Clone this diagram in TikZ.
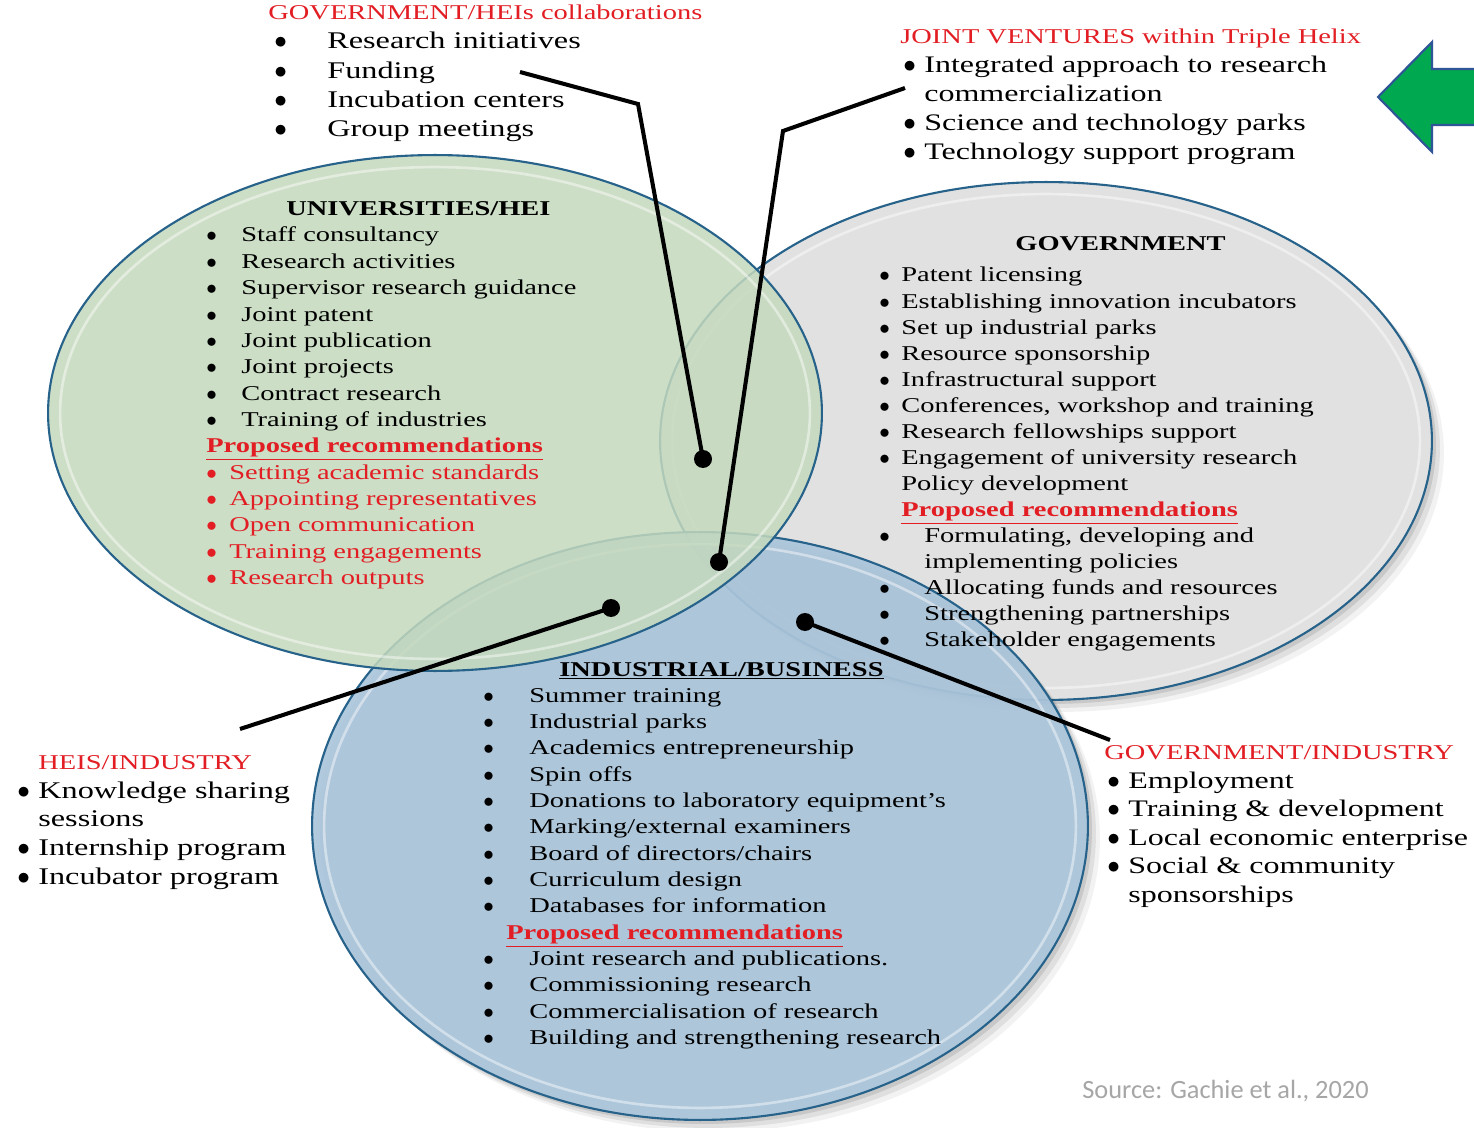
\documentclass[tikz,border=0pt]{standalone}
\usepackage{fontspec}
\setmainfont{Liberation Serif}[FakeStretch=1.35]
\newfontfamily\srcfont{Carlito}

\definecolor{hred}{RGB}{226,30,36}
\definecolor{rim}{RGB}{38,98,138}
\definecolor{unifill}{RGB}{196,217,189}
\definecolor{govfill}{RGB}{225,225,225}
\definecolor{indfill}{RGB}{172,198,220}
\definecolor{arrowgreen}{RGB}{0,168,80}
\definecolor{arrowrim}{RGB}{47,85,151}
\definecolor{srcgray}{RGB}{166,166,166}

\newcommand{\bl}[1]{\makebox[#1][l]{$\bullet$}}
\newcommand{\nb}[1]{\hspace*{#1}}
\newcommand{\rbl}[2]{\textcolor{hred}{\bl{#1}#2}}
\newcommand{\prop}{\textcolor{hred}{\bfseries\smash{\underline{Proposed recommendations}}}}

\tikzset{
  rimline/.style={draw=rim, line width=1.2pt},
  glass/.style={draw=white, draw opacity=0.45, line width=1.5pt},
  lst/.style={anchor=base west, inner sep=0pt},
  head/.style={anchor=base west, inner sep=0pt, font=\fontsize{12}{14}\selectfont\bfseries},
  redhead/.style={anchor=base west, inner sep=0pt, text=hred, font=\fontsize{12}{14}\selectfont},
  dot/.style={circle, fill=black, inner sep=0pt, minimum size=0.36cm},
  link/.style={line width=2.3pt},
}

\begin{document}
\begin{tikzpicture}[x=0.02cm,y=-0.02cm]
\useasboundingbox[fill=white] (0,0) rectangle (1474,1128);

% government circle
\foreach \s/\o in {4/0.10,8/0.08,12/0.05}
  \fill[black, opacity=\o, shift={(\s,\s)}] (1046,441) ellipse [x radius=7.72cm, y radius=5.18cm];
\fill[govfill] (1046,441) ellipse [x radius=7.72cm, y radius=5.18cm];
\draw[rimline] (1046,441) ellipse [x radius=7.72cm, y radius=5.18cm];
\draw[glass] (1046,441) ellipse [x radius=7.48cm, y radius=4.94cm];

% industry circle
\foreach \s/\o in {4/0.10,8/0.08,12/0.05}
  \fill[black, opacity=\o, shift={(\s,\s)}] (700,826) ellipse [x radius=7.76cm, y radius=5.88cm];
\fill[indfill, opacity=0.93] (700,826) ellipse [x radius=7.76cm, y radius=5.88cm];
\draw[rimline] (700,826) ellipse [x radius=7.76cm, y radius=5.88cm];
\draw[glass] (700,826) ellipse [x radius=7.52cm, y radius=5.64cm];

% universities circle
\fill[unifill, opacity=0.85] (435,413) ellipse [x radius=7.74cm, y radius=5.16cm];
\draw[rimline] (435,413) ellipse [x radius=7.74cm, y radius=5.16cm];
\draw[glass] (435,413) ellipse [x radius=7.50cm, y radius=4.92cm];

% arrow
\filldraw[fill=arrowgreen, draw=arrowrim, line width=1.2pt]
  (1480,69) -- (1432,69) -- (1432,42) -- (1378,97) -- (1432,152) -- (1432,125) -- (1480,125) -- cycle;

% connectors
\node[dot] (d1) at (703,459) {};
\node[dot] (d2) at (719,562) {};
\node[dot] (d3) at (611,608) {};
\node[dot] (d4) at (805,622) {};
\coordinate (f1) at (520,72);
\coordinate (k1) at (638,104);
\coordinate (f2) at (905,88);
\coordinate (k2) at (783,131);
\coordinate (f3) at (240,729);
\coordinate (f4) at (1110,740);
\draw[link] (f1) -- (k1) -- (d1.center);
\draw[link] (f2) -- (k2) -- (d2.center);
\draw[link] (f3) -- (d3.center);
\draw[link] (d4.center) -- (f4);

% outer labels
\node[redhead] (ghtitle) at (268,20) {GOVERNMENT/HEIs collaborations};
\node[lst, font=\fontsize{13.6}{16.6}\selectfont] (ghlist) at (274,49) {\begin{tabular}[t]{@{}l@{}}
\bl{1.06cm}Research initiatives\\
\bl{1.06cm}Funding\\
\bl{1.06cm}Incubation centers\\
\bl{1.06cm}Group meetings
\end{tabular}};

\node[redhead] (jvtitle) at (900,44) {JOINT VENTURES within Triple Helix};
\node[lst, font=\fontsize{13.5}{16.45}\selectfont] (jvlist) at (903,73) {\begin{tabular}[t]{@{}l@{}}
\bl{0.42cm}Integrated approach to research\\
\nb{0.42cm}commercialization\\
\bl{0.42cm}Science and technology parks\\
\bl{0.42cm}Technology support program
\end{tabular}};

\node[redhead] (hititle) at (38,769) {HEIS/INDUSTRY};
\node[lst, font=\fontsize{13.6}{16.45}\selectfont] (hilist) at (17,798) {\begin{tabular}[t]{@{}l@{}}
\bl{0.42cm}Knowledge sharing\\
\nb{0.42cm}sessions\\
\bl{0.42cm}Internship program\\
\bl{0.42cm}Incubator program
\end{tabular}};

\node[redhead] (gititle) at (1104,759) {GOVERNMENT/INDUSTRY};
\node[lst, font=\fontsize{13.5}{16.3}\selectfont] (gilist) at (1107,788) {\begin{tabular}[t]{@{}l@{}}
\bl{0.42cm}Employment\\
\bl{0.42cm}Training \& development\\
\bl{0.42cm}Local economic enterprise\\
\bl{0.42cm}Social \& community\\
\nb{0.42cm}sponsorships
\end{tabular}};

% circle contents
\node[head] (unititle) at (286,216) {UNIVERSITIES/HEI};
\node[lst, font=\fontsize{12}{15}\selectfont] (unilist) at (206,242) {\begin{tabular}[t]{@{}l@{}}
\bl{0.70cm}Staff consultancy\\
\bl{0.70cm}Research activities\\
\bl{0.70cm}Supervisor research guidance\\
\bl{0.70cm}Joint patent\\
\bl{0.70cm}Joint publication\\
\bl{0.70cm}Joint projects\\
\bl{0.70cm}Contract research\\
\bl{0.70cm}Training of industries\\
\prop\\
\rbl{0.46cm}{Setting academic standards}\\
\rbl{0.46cm}{Appointing representatives}\\
\rbl{0.46cm}{Open communication}\\
\rbl{0.46cm}{Training engagements}\\
\rbl{0.46cm}{Research outputs}
\end{tabular}};

\node[head] (govtitle) at (1015,251) {GOVERNMENT};
\node[lst, font=\fontsize{12}{14.82}\selectfont] (govlist) at (879,282) {\begin{tabular}[t]{@{}l@{}}
\bl{0.44cm}Patent licensing\\
\bl{0.44cm}Establishing innovation incubators\\
\bl{0.44cm}Set up industrial parks\\
\bl{0.44cm}Resource sponsorship\\
\bl{0.44cm}Infrastructural support\\
\bl{0.44cm}Conferences, workshop and training\\
\bl{0.44cm}Research fellowships support\\
\bl{0.44cm}Engagement of university research\\
\nb{0.44cm}Policy development\\
\nb{0.44cm}\prop\\
\bl{0.90cm}Formulating, developing and\\
\nb{0.90cm}implementing policies\\
\bl{0.90cm}Allocating funds and resources\\
\bl{0.90cm}Strengthening partnerships\\
\bl{0.90cm}Stakeholder engagements
\end{tabular}};

\node[head] (indtitle) at (559,676) {\underline{INDUSTRIAL/BUSINESS}};
\node[lst, font=\fontsize{12}{15}\selectfont] (indlist) at (483,702) {\begin{tabular}[t]{@{}l@{}}
\bl{0.92cm}Summer training\\
\bl{0.92cm}Industrial parks\\
\bl{0.92cm}Academics entrepreneurship\\
\bl{0.92cm}Spin offs\\
\bl{0.92cm}Donations to laboratory equipment’s\\
\bl{0.92cm}Marking/external examiners\\
\bl{0.92cm}Board of directors/chairs\\
\bl{0.92cm}Curriculum design\\
\bl{0.92cm}Databases for information\\
\nb{0.46cm}\prop\\
\bl{0.92cm}Joint research and publications.\\
\bl{0.92cm}Commissioning research\\
\bl{0.92cm}Commercialisation of research\\
\bl{0.92cm}Building and strengthening research
\end{tabular}};

\node[anchor=base west, inner sep=0pt, text=srcgray, font=\srcfont\fontsize{15}{18}\selectfont] (src) at (1082,1098) {Source: Gachie et al., 2020};
\end{tikzpicture}
\end{document}
